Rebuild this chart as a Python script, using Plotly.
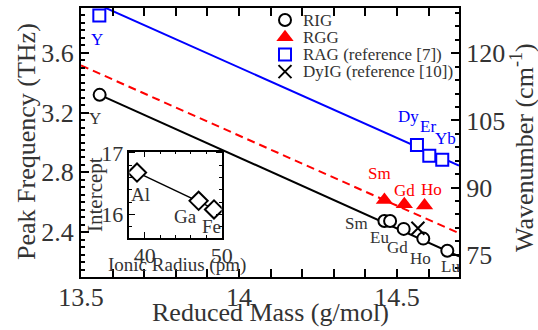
import numpy as np
import plotly.graph_objects as go

# ---------------- data ----------------
rig_labels = ["Y", "Sm", "Eu", "Gd", "Ho", "Lu"]
rig_mass = [13.559, 14.460, 14.478, 14.521, 14.583, 14.659]
rig_freq = [3.319, 2.475, 2.475, 2.422, 2.357, 2.276]

rgg_labels = ["Sm", "Gd", "Ho"]
rgg_mass = [14.460, 14.523, 14.587]
rgg_freq = [2.616, 2.587, 2.578]

rag_labels = ["Y", "Dy", "Er", "Yb"]
rag_mass = [13.558, 14.563, 14.602, 14.643]
rag_freq = [3.850, 2.984, 2.911, 2.884]

dyig_mass = [14.566]
dyig_freq = [2.426]

# fitted lines (end points)
rig_fit_mass = [13.559, 14.696]
rig_fit_freq = [3.319, 2.238]
rgg_fit_mass = [13.5, 14.696]
rgg_fit_freq = [3.516, 2.393]
rag_fit_mass = [13.5, 14.696]
rag_fit_freq = [3.974, 2.846]

# inset
inset_ions = ["Al", "Ga", "Fe"]
inset_radius = [39, 47, 49]
inset_intercept = [16.68, 16.22, 16.08]

legend_names = ["RIG", "RGG", "RAG (reference [7])", "DyIG (reference [10])"]

x_ticks = [13.5, 14, 14.5]
y_ticks = [2.4, 2.8, 3.2, 3.6]
wn_ticks = [75, 90, 105, 120]
inset_x_ticks = [40, 50]
inset_y_ticks = [16, 17]

THZ_TO_CM = 33.356

# ---------------- style ----------------
FONT = "Liberation Serif"
TXT = "#333333"
RED = "#ff0000"
BLUE = "#0000ff"
W, H = 538, 330
ML, MR, MT, MB = 81, 79, 8, 53
Y_RANGE = [2.1, 3.9]
X_RANGE = [13.5, 14.696]

rig_off = [(-5, -24), (-28, -3), (-11, -17), (-6, -19), (-3, -20), (3, -16)]
rgg_off = [(-5, 26), (0, 14), (7, 16)]
rag_off = [(-2, -24), (-8, 28), (-1, 29), (3, 21)]
inset_off = [(3, -22), (-13, -16), (-3, -17)]


def f(size, color=TXT):
    return dict(family=FONT, size=size, color=color)


fig = go.Figure()

# fit lines
fig.add_trace(go.Scatter(x=rag_fit_mass, y=rag_fit_freq, mode="lines",
                         line=dict(color=BLUE, width=2), showlegend=False, hoverinfo="skip"))
fig.add_trace(go.Scatter(x=rgg_fit_mass, y=rgg_fit_freq, mode="lines",
                         line=dict(color=RED, width=2, dash="8px,5px"), showlegend=False, hoverinfo="skip"))
fig.add_trace(go.Scatter(x=rig_fit_mass, y=rig_fit_freq, mode="lines",
                         line=dict(color="black", width=2), showlegend=False, hoverinfo="skip"))

sym = dict(
    RIG=dict(symbol="circle", size=12, color="white", line=dict(color="black", width=2)),
    RGG=dict(symbol="triangle-up", size=15, color=RED, line=dict(color=RED, width=0)),
    RAG=dict(symbol="square", size=12, color="white", line=dict(color=BLUE, width=2)),
    DyIG=dict(symbol="x-thin-open", size=13, color="black", line=dict(color="black", width=2)),
)

fig.add_trace(go.Scatter(x=rig_mass, y=rig_freq, mode="markers", marker=sym["RIG"], showlegend=False))
fig.add_trace(go.Scatter(x=rgg_mass, y=rgg_freq, mode="markers", marker=sym["RGG"], showlegend=False))
fig.add_trace(go.Scatter(x=rag_mass, y=rag_freq, mode="markers", marker=sym["RAG"], showlegend=False))
fig.add_trace(go.Scatter(x=dyig_mass, y=dyig_freq, mode="markers", marker=sym["DyIG"], showlegend=False))

# dummy trace for right axis
fig.add_trace(go.Scatter(x=[None], y=[None], yaxis="y3", showlegend=False))

# inset
coef = np.polyfit(inset_radius, inset_intercept, 1)
fx = [min(inset_radius), max(inset_radius)]
fig.add_trace(go.Scatter(x=fx, y=np.polyval(coef, fx), mode="lines", xaxis="x2", yaxis="y2",
                         line=dict(color="black", width=1.5), showlegend=False, hoverinfo="skip"))
fig.add_trace(go.Scatter(x=inset_radius, y=inset_intercept, mode="markers", xaxis="x2", yaxis="y2",
                         marker=dict(symbol="diamond", size=14, color="white",
                                     line=dict(color="black", width=2)), showlegend=False))

# manual legend on a hidden pixel axis
LEG_X_MARK, LEG_X_TEXT, LEG_Y0, LEG_DY = 285, 301, 20, 17.2
leg_syms = ["RIG", "RGG", "RAG", "DyIG"]
for i, (name, key) in enumerate(zip(legend_names, leg_syms)):
    fig.add_trace(go.Scatter(x=[LEG_X_MARK], y=[LEG_Y0 + i * LEG_DY], mode="markers",
                             xaxis="x4", yaxis="y4", marker=dict(sym[key]), showlegend=False,
                             hoverinfo="skip"))
    fig.add_annotation(x=LEG_X_TEXT, y=LEG_Y0 + i * LEG_DY, xref="x4", yref="y4", text=name,
                       showarrow=False, xanchor="left", yanchor="middle", font=f(17))


# point labels
def add_labels(xs, ys, labels, offs, color, xref="x", yref="y", size=17):
    for x, y, t, (dx, dy) in zip(xs, ys, labels, offs):
        fig.add_annotation(x=x, y=y, xref=xref, yref=yref, text=t, showarrow=False,
                           xshift=dx, yshift=dy, font=f(size, color))


add_labels(rig_mass, rig_freq, rig_labels, rig_off, TXT)
add_labels(rgg_mass, rgg_freq, rgg_labels, rgg_off, RED)
add_labels(rag_mass, rag_freq, rag_labels, rag_off, BLUE)
add_labels(inset_radius, inset_intercept, inset_ions, inset_off, TXT, "x2", "y2", 19)


def px2paper(px, py):
    return (px - ML) / (W - ML - MR), (H - MB - py) / (H - MT - MB)


def title_at(px, py, text, size, angle=0):
    ax, ay = px2paper(px, py)
    fig.add_annotation(x=ax, y=ay, xref="paper", yref="paper", text=text, textangle=angle,
                       showarrow=False, xanchor="center", yanchor="middle", font=f(size))


# axis titles
title_at(270, 312, "Reduced Mass (g/mol)", 26)
title_at(26, 142, "Peak Frequency (THz)", 26, -90)
title_at(522, 148, "Wavenumber (cm<sup>-1</sup>)", 26, -90)
title_at(95, 195, "Intercept", 21, -90)
title_at(177, 265, "Ionic Radius (pm)", 19)

axis_common = dict(showgrid=False, zeroline=False, showline=True, linecolor="black",
                   ticks="inside", tickcolor="black", automargin=False)

ix0, iy0 = px2paper(129.3, 237.7)
ix1, iy1 = px2paper(221.7, 151.7)

fig.update_layout(
    width=W, height=H, margin=dict(l=ML, r=MR, t=MT, b=MB, autoexpand=False),
    paper_bgcolor="white", plot_bgcolor="white",
    font=f(17),
    showlegend=False,
    xaxis=dict(**axis_common, domain=[0, 1], range=X_RANGE, tickvals=x_ticks,
               ticktext=[f"{v:g}" for v in x_ticks], ticklen=8, tickwidth=1.5, linewidth=2,
               mirror="allticks", tickfont=f(26), ticklabelstandoff=-4,
               minor=dict(dtick=0.1, ticklen=4, tickwidth=1.5, tickcolor="black", ticks="inside")),
    yaxis=dict(**axis_common, domain=[0, 1], range=Y_RANGE, tickvals=y_ticks,
               ticktext=[f"{v:.1f}" for v in y_ticks], ticklen=8, tickwidth=1.5, linewidth=2,
               mirror=True, tickfont=f(26),
               minor=dict(dtick=0.05, ticklen=4, tickwidth=1.5, tickcolor="black", ticks="inside")),
    yaxis3=dict(**axis_common, overlaying="y", side="right", anchor="x",
                range=[Y_RANGE[0] * THZ_TO_CM, Y_RANGE[1] * THZ_TO_CM], tickvals=wn_ticks,
                ticklen=8, tickwidth=1.5, linewidth=2, tickfont=f(26),
                minor=dict(dtick=3, ticklen=4, tickwidth=1.5, tickcolor="black", ticks="inside")),
    xaxis2=dict(**axis_common, domain=[ix0, ix1], anchor="y2", range=[38, 50],
                tickvals=inset_x_ticks, ticklen=6, tickwidth=1.2, linewidth=1.5,
                mirror="allticks", tickfont=f(22), ticklabelstandoff=-3,
                minor=dict(dtick=2, ticklen=3, tickwidth=1.2, tickcolor="black", ticks="inside")),
    yaxis2=dict(**axis_common, domain=[iy0, iy1], anchor="x2", range=[15.62, 17.02],
                tickvals=inset_y_ticks, ticklen=6, tickwidth=1.2, linewidth=1.5,
                mirror="allticks", tickfont=f(22),
                minor=dict(dtick=0.2, ticklen=3, tickwidth=1.2, tickcolor="black", ticks="inside")),
    xaxis4=dict(domain=[0, 1], anchor="y4", overlaying="x", range=[ML, W - MR], visible=False),
    yaxis4=dict(domain=[0, 1], anchor="x4", overlaying="y", range=[H - MB, MT], visible=False),
)

fig.write_html("out.html", config={"displayModeBar": False},
               post_script="document.body.style.margin='0';")
